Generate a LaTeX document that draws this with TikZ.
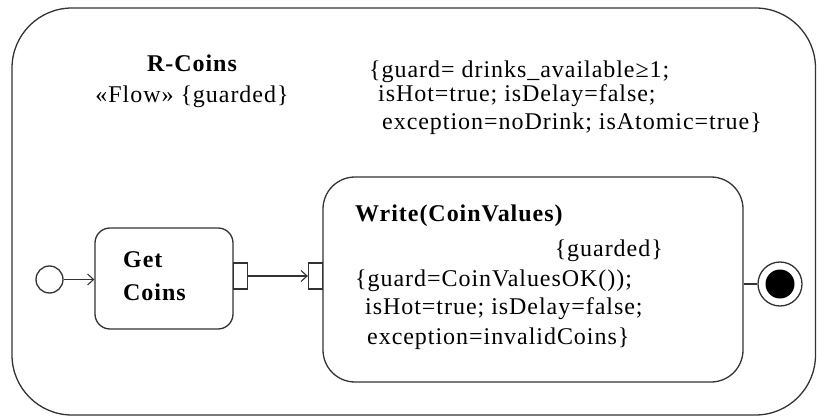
\documentclass[tikz,border=0pt]{standalone}
\usepackage{fontspec}
\setmainfont{Liberation Serif}[LetterSpace=4]
\usetikzlibrary{arrows.meta}

\tikzset{
  ln/.style={line width=1.3pt, draw=black!80},
  actbox/.style={ln, rectangle, inner sep=0pt},
  pin/.style={ln, rectangle, inner sep=0pt, minimum width=14pt, minimum height=26pt, fill=white},
  txt/.style={anchor=base west, inner sep=0pt, font=\fontsize{24}{30}\selectfont},
  btxt/.style={txt, font=\fontsize{24}{30}\selectfont\bfseries},
  flow/.style={ln, -{Straight Barb[length=6pt,width=11pt,line width=1.1pt]}},
}

\begin{document}
\begin{tikzpicture}[x=1pt, y=-1pt]
\useasboundingbox (0,0) rectangle (817,417);

% enclosing activity frame
\draw[ln, rounded corners=60pt] (12,8) rectangle (815.5,415);

% frame header
\node[btxt, anchor=base] (title) at (192,72) {R-Coins};
\node[txt, anchor=base] (stereo) at (192,103) {«Flow» \{guarded\}};

% frame constraints
\node[txt] (c1) at (369,78) {\{guard= drinks\_available≥1;};
\node[txt] (c2) at (378,102) {isHot=true; isDelay=false;};
\node[txt] (c3) at (382,130) {exception=noDrink; isAtomic=true\}};

% actions
\node[actbox, rounded corners=15pt, minimum width=138pt, minimum height=101pt] (get) at (164,278.5) {};
\node[actbox, rounded corners=32pt, minimum width=420pt, minimum height=205pt] (write) at (533,279.5) {};

\node[btxt] (getA) at (123,267) {Get};
\node[btxt] (getB) at (123,300) {Coins};

\node[btxt] (wT) at (355,222) {Write(CoinValues)};
\node[txt, anchor=base east] (wG) at (663,256) {\{guarded\}};
\node[txt] (w1) at (355,286) {\{guard=CoinValuesOK());};
\node[txt] (w2) at (365,314) {isHot=true; isDelay=false;};
\node[txt] (w3) at (367,344) {exception=invalidCoins\}};

% pins
\node[pin] (pout) at (240.5,276) {};
\node[pin] (pin) at (315.5,276) {};

% initial and final nodes
\node[ln, circle, minimum size=27pt, inner sep=0pt] (init) at (49.5,279.5) {};
\node[ln, circle, minimum size=44pt, inner sep=0pt] (fin) at (780,284) {};
\node[circle, fill=black, minimum size=29pt, inner sep=0pt] (finc) at (fin.center) {};

% flows
\draw[flow] (init.east) -- (get.west |- init.east);
\draw[flow] (pout.east) -- (pin.west);
\draw[ln] (write.east |- fin.west) -- (fin.west);
\end{tikzpicture}
\end{document}
